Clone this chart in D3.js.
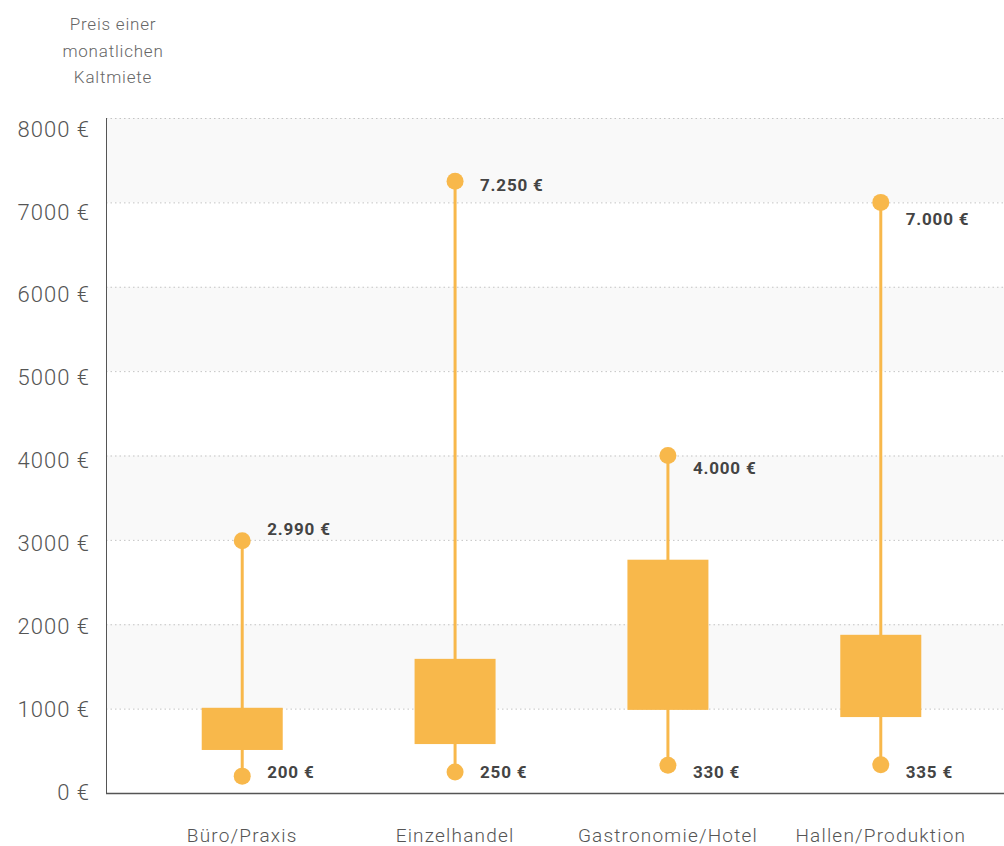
<!DOCTYPE html>
<html>
<head>
<meta charset="utf-8">
<script src="https://cdn.jsdelivr.net/npm/d3@7"></script>
<style>
  body { margin: 0; background: #fff; }
  svg { display: block; font-family: Roboto, "Noto Sans", sans-serif; }
</style>
</head>
<body>
<div id="chart"></div>
<script>
// Mietpreise je Kategorie (Euro pro Monat)
const categories = ["Büro/Praxis", "Einzelhandel", "Gastronomie/Hotel", "Hallen/Produktion"];
const minValues = [200, 250, 330, 335];
const q1Values = [510, 580, 985, 900];
const q3Values = [1010, 1590, 2765, 1875];
const maxValues = [2990, 7250, 4000, 7000];
const yTicks = [0, 1000, 2000, 3000, 4000, 5000, 6000, 7000, 8000];
const titleLines = ["Preis einer", "monatlichen", "Kaltmiete"];

// label offsets for the max labels (layout only)
const maxLabelDy = [-12, 4, 13, 17];

const width = 1004, height = 846;
const margin = {top: 118, left: 106, bottom: 53};
const color = "#f8b84b";
const fmt = v => d3.format(",")(v).replace(/,/g, ".") + " €";

const svg = d3.select("#chart").append("svg")
  .attr("width", width)
  .attr("height", height);

const y = d3.scaleLinear()
  .domain([0, 8000])
  .range([height - margin.bottom, margin.top]);

// tick labels sit slightly below their gridlines in the original
const yLabel = d3.scaleLinear()
  .domain([0, 8000])
  .range([792, 129]);

const x = d3.scaleBand()
  .domain(categories)
  .range([margin.left, 1017])
  .paddingOuter(0.14)
  .paddingInner(0);

// alternating background bands
const bands = yTicks.slice(0, -1).filter((d, i) => i % 2 === 1);
svg.append("g").selectAll("rect")
  .data(bands)
  .join("rect")
    .attr("x", margin.left)
    .attr("width", width - margin.left)
    .attr("y", d => y(d + 1000))
    .attr("height", d => y(d) - y(d + 1000))
    .attr("fill", "#f9f9f9");

// gridlines
svg.append("g").selectAll("line")
  .data(yTicks.slice(1))
  .join("line")
    .attr("x1", margin.left)
    .attr("x2", width)
    .attr("y1", d => y(d) + 0.5)
    .attr("y2", d => y(d) + 0.5)
    .attr("stroke", "#c4c4c4")
    .attr("stroke-dasharray", "1.5,3");

// axes
svg.append("line")
  .attr("x1", margin.left + 0.5).attr("x2", margin.left + 0.5)
  .attr("y1", margin.top).attr("y2", y(0))
  .attr("stroke", "#555").attr("stroke-width", 1);
svg.append("line")
  .attr("x1", margin.left).attr("x2", width)
  .attr("y1", y(0) + 0.5).attr("y2", y(0) + 0.5)
  .attr("stroke", "#555").attr("stroke-width", 1.5);

svg.append("g").selectAll("text")
  .data(yTicks)
  .join("text")
    .attr("x", 90)
    .attr("y", d => yLabel(d))
    .attr("dy", "0.35em")
    .attr("text-anchor", "end")
    .attr("fill", "#555")
    .attr("font-size", 22)
    .attr("font-weight", 300)
    .attr("letter-spacing", 1)
    .text(d => d + " €");

svg.append("g").selectAll("text")
  .data(categories)
  .join("text")
    .attr("x", d => x(d) + x.bandwidth() / 2)
    .attr("y", 842)
    .attr("text-anchor", "middle")
    .attr("fill", "#555")
    .attr("font-size", 19)
    .attr("font-weight", 300)
    .attr("letter-spacing", 1.2)
    .text(d => d);

// axis title
svg.append("text")
  .attr("x", 113)
  .attr("y", 30)
  .attr("text-anchor", "middle")
  .attr("fill", "#666")
  .attr("font-size", 17)
  .attr("font-weight", 300)
  .attr("letter-spacing", 0.8)
  .selectAll("tspan")
  .data(titleLines)
  .join("tspan")
    .attr("x", 113)
    .attr("dy", (d, i) => i === 0 ? 0 : 26.5)
    .text(d => d);

// boxes
const rows = categories.map((c, i) => ({
  cat: c, min: minValues[i], q1: q1Values[i], q3: q3Values[i], max: maxValues[i], dy: maxLabelDy[i]
}));
const cx = d => x(d.cat) + x.bandwidth() / 2;
const boxW = 81;

const g = svg.append("g");
g.selectAll(".whisker")
  .data(rows)
  .join("line")
    .attr("class", "whisker")
    .attr("x1", cx).attr("x2", cx)
    .attr("y1", d => y(d.min)).attr("y2", d => y(d.max))
    .attr("stroke", color).attr("stroke-width", 3);

g.selectAll(".box")
  .data(rows)
  .join("rect")
    .attr("class", "box")
    .attr("x", d => cx(d) - boxW / 2)
    .attr("width", boxW)
    .attr("y", d => y(d.q3))
    .attr("height", d => y(d.q1) - y(d.q3))
    .attr("fill", color);

g.selectAll(".dotMax")
  .data(rows)
  .join("circle")
    .attr("class", "dotMax")
    .attr("cx", cx).attr("cy", d => y(d.max))
    .attr("r", 8.5).attr("fill", color);

g.selectAll(".dotMin")
  .data(rows)
  .join("circle")
    .attr("class", "dotMin")
    .attr("cx", cx).attr("cy", d => y(d.min))
    .attr("r", 8.5).attr("fill", color);

g.selectAll(".lblMax")
  .data(rows)
  .join("text")
    .attr("class", "lblMax")
    .attr("x", d => cx(d) + 25)
    .attr("y", d => y(d.max) + d.dy)
    .attr("dy", "0.35em")
    .attr("fill", "#444")
    .attr("font-size", 17)
    .attr("font-weight", 700)
    .attr("letter-spacing", 0.8)
    .text(d => fmt(d.max));

g.selectAll(".lblMin")
  .data(rows)
  .join("text")
    .attr("class", "lblMin")
    .attr("x", d => cx(d) + 25)
    .attr("y", d => y(0) - 21)
    .attr("dy", "0.35em")
    .attr("fill", "#444")
    .attr("font-size", 17)
    .attr("font-weight", 700)
    .attr("letter-spacing", 0.8)
    .text(d => fmt(d.min));
</script>
</body>
</html>
